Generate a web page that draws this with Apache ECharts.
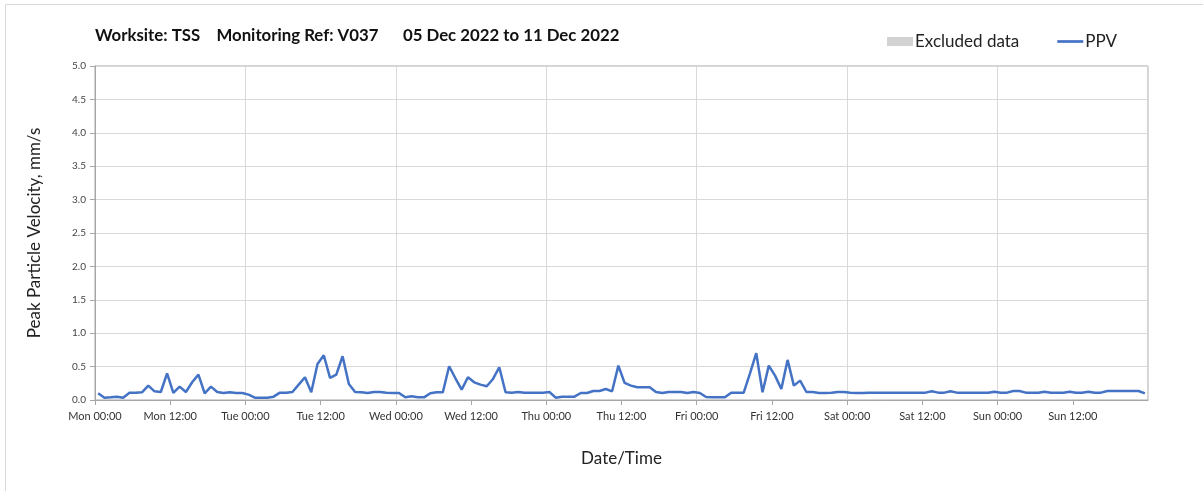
<!DOCTYPE html>
<html>
<head>
<meta charset="utf-8">
<script src="https://cdn.jsdelivr.net/npm/echarts@6/dist/echarts.min.js"></script>
<style>
  html, body { margin: 0; padding: 0; background: #fff; }
  #chart { width: 1203px; height: 493px; }
</style>
</head>
<body>
<div id="chart"></div>
<script>
// hourly PPV readings, Mon 05 Dec 00:30 .. Sun 11 Dec 23:30
var ppv = [
  0.10, 0.035, 0.04, 0.05, 0.035, 0.11, 0.11, 0.115, 0.215, 0.13, 0.12, 0.40, 0.105, 0.20, 0.12, 0.265, 0.38, 0.10, 0.20, 0.12, 0.105, 0.115, 0.105, 0.105,
  0.08, 0.035, 0.035, 0.035, 0.05, 0.11, 0.11, 0.12, 0.23, 0.34, 0.115, 0.54, 0.67, 0.33, 0.38, 0.655, 0.24, 0.12, 0.115, 0.105, 0.12, 0.12, 0.11, 0.105,
  0.105, 0.04, 0.055, 0.04, 0.04, 0.10, 0.115, 0.115, 0.505, 0.325, 0.155, 0.34, 0.265, 0.23, 0.205, 0.315, 0.49, 0.115, 0.11, 0.12, 0.11, 0.11, 0.11, 0.11,
  0.12, 0.035, 0.05, 0.05, 0.05, 0.105, 0.105, 0.135, 0.135, 0.165, 0.13, 0.515, 0.255, 0.215, 0.19, 0.19, 0.19, 0.12, 0.105, 0.12, 0.12, 0.12, 0.105, 0.12,
  0.105, 0.045, 0.04, 0.04, 0.04, 0.11, 0.11, 0.11, 0.40, 0.70, 0.115, 0.515, 0.365, 0.165, 0.60, 0.215, 0.29, 0.12, 0.12, 0.105, 0.105, 0.11, 0.12, 0.12,
  0.11, 0.105, 0.105, 0.11, 0.11, 0.11, 0.11, 0.11, 0.11, 0.11, 0.11, 0.11, 0.11, 0.13, 0.11, 0.11, 0.13, 0.11, 0.11, 0.11, 0.11, 0.11, 0.11, 0.125,
  0.11, 0.11, 0.135, 0.135, 0.11, 0.11, 0.11, 0.125, 0.11, 0.11, 0.11, 0.125, 0.11, 0.11, 0.125, 0.11, 0.11, 0.135, 0.135, 0.135, 0.135, 0.135, 0.135, 0.10
];
var dayNames = ["Mon", "Tue", "Wed", "Thu", "Fri", "Sat", "Sun"];
var tickTimes = ["00:00", "12:00"];

var title = "Worksite: TSS    Monitoring Ref: V037      05 Dec 2022 to 11 Dec 2022";
var font = "Lato, 'Open Sans', sans-serif";

// hours since Mon 00:00, readings sit at half past each hour
var points = ppv.map(function (v, i) { return [i + 0.5, v]; });

var chart = echarts.init(document.getElementById("chart"));

var option = {
  backgroundColor: "#fff",
  animation: false,
  textStyle: { fontFamily: font },
  title: {
    text: title,
    left: 90,
    top: 22,
    textStyle: { fontSize: 16.8, fontWeight: "bold", color: "#111", fontFamily: font }
  },
  legend: {
    left: 882,
    top: 28,
    itemGap: 38,
    itemWidth: 26,
    itemHeight: 9,
    textStyle: { fontSize: 17, color: "#222", fontFamily: font, padding: [0, 0, 0, -3] },
    data: [
      { name: "Excluded data", icon: "rect", itemStyle: { color: "#d3d3d3" } },
      { name: "PPV", icon: "path://M0,3.3 L26,3.3 L26,6 L0,6 Z", itemStyle: { color: "#4472c4" } }
    ]
  },
  graphic: [{
    type: "polyline",
    silent: true,
    shape: { points: [[5.5, 491], [5.5, 4.5], [1210, 4.5]] },
    style: { stroke: "#d9d9d9", lineWidth: 1, fill: null }
  }],
  grid: {
    left: 95,
    right: 55,
    top: 66,
    bottom: 93,
    show: true,
    borderColor: "#a6a6a6",
    borderWidth: 1
  },
  xAxis: [{
    type: "value",
    min: 0,
    max: 168,
    interval: 12,
    name: "Date/Time",
    nameLocation: "middle",
    nameGap: 50,
    nameTextStyle: { fontSize: 17, color: "#222", fontFamily: font },
    axisLine: { lineStyle: { color: "#a6a6a6" } },
    axisTick: { length: 5, lineStyle: { color: "#a6a6a6" } },
    splitLine: { show: false },
    axisLabel: {
      showMaxLabel: false,
      margin: 11,
      fontSize: 11,
      color: "#333",
      formatter: function (v) {
        return dayNames[Math.floor(v / 24) % 7] + " " + tickTimes[(v % 24) / 12];
      }
    }
  }, {
    type: "value",
    min: 0,
    max: 168,
    interval: 24,
    position: "bottom",
    axisLine: { show: false },
    axisTick: { show: false },
    axisLabel: { show: false },
    splitLine: { show: true, lineStyle: { color: "#d9d9d9" } }
  }],
  yAxis: {
    type: "value",
    min: 0,
    max: 5,
    interval: 0.5,
    name: "Peak Particle Velocity, mm/s",
    nameLocation: "middle",
    nameGap: 52,
    nameTextStyle: { fontSize: 17, color: "#222", fontFamily: font },
    axisLine: { show: true, lineStyle: { color: "#a6a6a6" } },
    axisTick: { show: true, length: 5, lineStyle: { color: "#a6a6a6" } },
    splitLine: { lineStyle: { color: "#d9d9d9" } },
    axisLabel: {
      margin: 9,
      fontSize: 10,
      color: "#444",
      formatter: function (v) { return v.toFixed(1); }
    }
  },
  series: [{
    name: "Excluded data",
    type: "bar",
    data: [],
    itemStyle: { color: "#d3d3d3" }
  }, {
    name: "PPV",
    type: "line",
    data: points,
    showSymbol: false,
    lineStyle: { color: "#4472c4", width: 2.5 },
    itemStyle: { color: "#4472c4" }
  }]
};

chart.setOption(option);
</script>
</body>
</html>
